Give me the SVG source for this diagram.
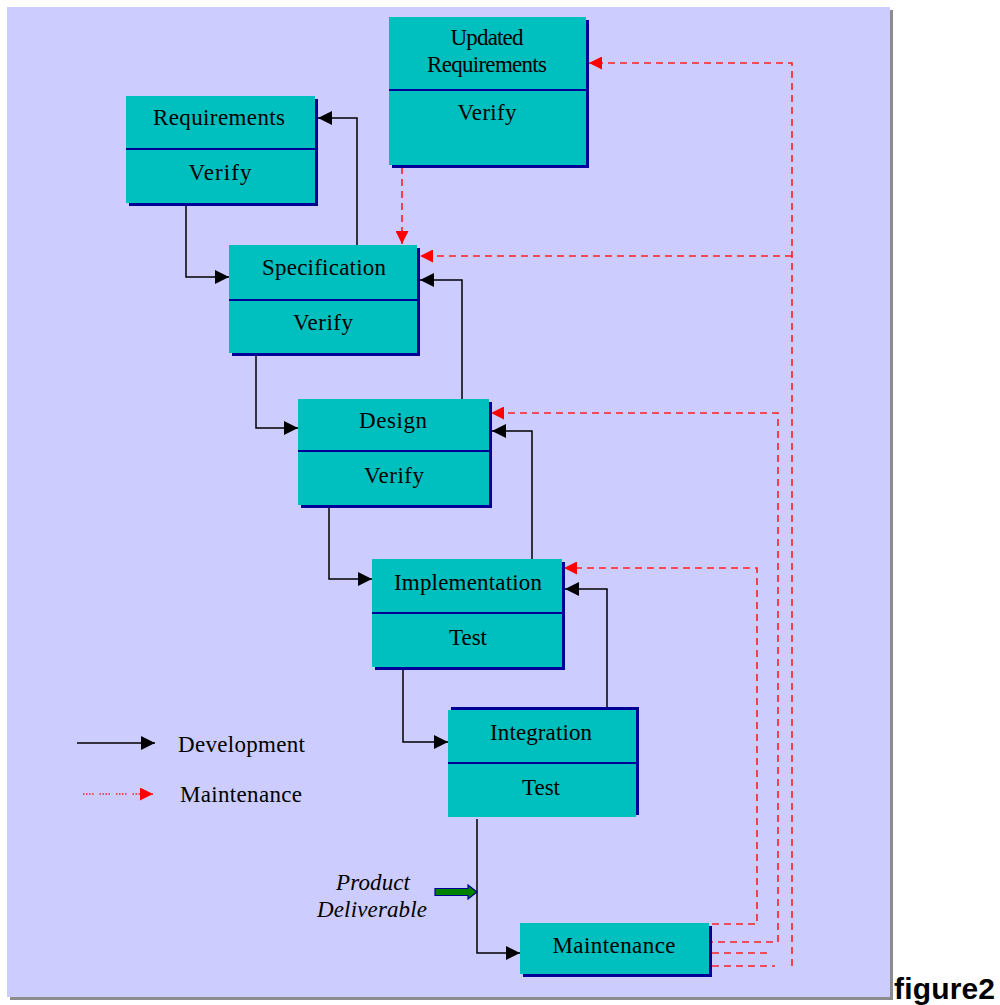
<svg xmlns="http://www.w3.org/2000/svg" width="1000" height="1005" viewBox="0 0 1000 1005">
<style>
.box{fill:#00BFBF}
.sh{fill:#000099}
.div{stroke:#000099;stroke-width:2}
.t{font-family:"Liberation Serif","Times New Roman",serif;font-size:23px;fill:#000;text-anchor:middle}
.ti{font-family:"Liberation Serif","Times New Roman",serif;font-size:23px;font-style:italic;fill:#000;text-anchor:middle}
.dev{fill:none;stroke:#000;stroke-width:1.5}
.mnt{fill:none;stroke:#FF1F1F;stroke-width:1.6;stroke-dasharray:7 5}
</style>
<defs>
<marker id="ab" viewBox="0 0 10 10" refX="10" refY="5" markerWidth="14" markerHeight="14" markerUnits="userSpaceOnUse" orient="auto"><path d="M0 0 L10 5 L0 10 Z" fill="#000"/></marker>
<marker id="ar" viewBox="0 0 10 10" refX="10" refY="5" markerWidth="13" markerHeight="13" markerUnits="userSpaceOnUse" orient="auto"><path d="M0 0 L10 5 L0 10 Z" fill="#FF0000"/></marker>
</defs>
<rect x="0" y="0" width="1000" height="1005" fill="#fff"/>
<rect x="10" y="10" width="883" height="990" fill="#8C8C8C"/>
<rect x="7" y="7" width="883" height="990" fill="#CCCCFF"/>

<g id="connectors">
<path class="dev" d="M186 204 V277 H229" marker-end="url(#ab)"/>
<path class="dev" d="M357 245 V118 H318" marker-end="url(#ab)"/>
<path class="dev" d="M256 355 V428 H298" marker-end="url(#ab)"/>
<path class="dev" d="M462 399 V280 H420" marker-end="url(#ab)"/>
<path class="dev" d="M329 507 V579 H372" marker-end="url(#ab)"/>
<path class="dev" d="M532 559 V431 H492" marker-end="url(#ab)"/>
<path class="dev" d="M403 669 V742 H448" marker-end="url(#ab)"/>
<path class="dev" d="M607 709 V589 H565" marker-end="url(#ab)"/>
<path class="dev" d="M477 819 V953 H520" marker-end="url(#ab)"/>
<path class="mnt" d="M402 167 V244" marker-end="url(#ar)"/>
<path class="mnt" d="M792 966 V63 H589" marker-end="url(#ar)"/>
<path class="mnt" d="M792 256 H420" marker-end="url(#ar)"/>
<path class="mnt" d="M706 942 H778 V413 H491" marker-end="url(#ar)"/>
<path class="mnt" d="M712 924 H757 V568 H564" marker-end="url(#ar)"/>
<path class="mnt" d="M712 953 H767"/>
<path class="mnt" d="M712 966 H775"/>
</g>

<g id="updated-requirements">
<rect class="sh" x="392" y="20" width="197" height="148"/>
<rect class="box" x="389" y="17" width="197" height="148"/>
<line class="div" x1="389" y1="90" x2="588" y2="90"/>
<text class="t" x="487" y="45" font-size="20" textLength="73">Updated</text>
<text class="t" x="487" y="72" font-size="20" textLength="120">Requirements</text>
<text class="t" x="487" y="120" textLength="59">Verify</text>
</g>

<g id="requirements">
<rect class="sh" x="129" y="99" width="189" height="107"/>
<rect class="box" x="126" y="96" width="189" height="107"/>
<line class="div" x1="126" y1="149" x2="317" y2="149"/>
<text class="t" x="219" y="125" textLength="132">Requirements</text>
<text class="t" x="220" y="180" textLength="63">Verify</text>
</g>

<g id="specification">
<rect class="sh" x="232" y="248" width="188" height="108"/>
<rect class="box" x="229" y="245" width="188" height="108"/>
<line class="div" x1="229" y1="300" x2="419" y2="300"/>
<text class="t" x="324" y="275" textLength="124">Specification</text>
<text class="t" x="323" y="330" textLength="60">Verify</text>
</g>

<g id="design">
<rect class="sh" x="301" y="402" width="191" height="106"/>
<rect class="box" x="298" y="399" width="191" height="106"/>
<line class="div" x1="298" y1="451" x2="491" y2="451"/>
<text class="t" x="393" y="428" textLength="68">Design</text>
<text class="t" x="394" y="483" textLength="60">Verify</text>
</g>

<g id="implementation">
<rect class="sh" x="375" y="562" width="190" height="108"/>
<rect class="box" x="372" y="559" width="190" height="108"/>
<line class="div" x1="372" y1="613" x2="564" y2="613"/>
<text class="t" x="468" y="590" textLength="148">Implementation</text>
<text class="t" x="468" y="645" textLength="38">Test</text>
</g>

<g id="integration">
<rect class="sh" x="451" y="707" width="188" height="108"/>
<rect class="box" x="448" y="710" width="188" height="107"/>
<line class="div" x1="448" y1="763" x2="638" y2="763"/>
<text class="t" x="541" y="740" textLength="102">Integration</text>
<text class="t" x="541" y="795" textLength="38">Test</text>
</g>

<g id="maintenance">
<rect class="sh" x="523" y="926" width="189" height="51"/>
<rect class="box" x="520" y="923" width="189" height="51"/>
<text class="t" x="614" y="953" textLength="123">Maintenance</text>
</g>

<g id="product-deliverable">
<text class="ti" x="373" y="890" textLength="74">Product</text>
<text class="ti" x="372" y="917" textLength="110">Deliverable</text>
<path d="M435 888.5 H468 V885 L477 892 L468 899 V895.5 H435 Z" fill="#008000" stroke="#000099" stroke-width="1.2"/>
</g>

<g id="legend">
<line x1="77" y1="743" x2="155" y2="743" stroke="#000" stroke-width="1.5" marker-end="url(#ab)"/>
<text class="t" x="178" y="752" style="text-anchor:start" textLength="127">Development</text>
<line x1="83" y1="794" x2="153" y2="794" stroke="#FF1F1F" stroke-width="1.6" stroke-dasharray="1.5 1.5 1.5 1.5 1.5 1.5 1.5 6" marker-end="url(#ar)"/>
<text class="t" x="180" y="802" style="text-anchor:start" textLength="122">Maintenance</text>
</g>

<text x="894" y="999" font-family="'Liberation Sans',Arial,sans-serif" font-weight="bold" font-size="30" textLength="101">figure2</text>
</svg>
